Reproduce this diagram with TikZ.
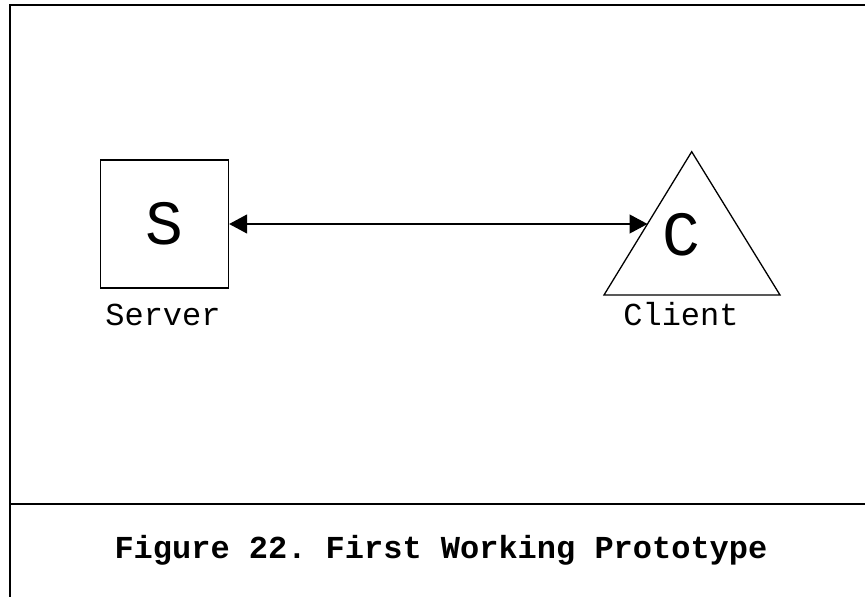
\documentclass[tikz,border=0pt]{standalone}
\usepackage{fontspec}
\newfontfamily\courier{Liberation Mono}
\usetikzlibrary{arrows.meta,positioning}

\newcommand\bigletter[1]{{\fontsize{63}{70}\selectfont #1}}

\begin{document}
\frenchspacing
\begin{tikzpicture}[x=1pt,y=-1pt,font=\courier\fontsize{32}{38}\selectfont,
  frame/.style = {line width=2pt},
  main/.style = {draw,line width=1.3pt,minimum size=128pt,inner sep=0pt},
  link/.style = {line width=1.3pt,{Triangle[length=18pt,width=19pt]}-{Triangle[length=18pt,width=19pt]}}]
\useasboundingbox (0,0) rectangle (865,597);

% frame and caption rule
\draw[frame] (865,5) -- (10,5) -- (10,597);
\draw[frame] (10,504) -- (865,504);

% server
\node (S) [main] at (164.5,224) {\bigletter{S}};
\node (srv) [anchor=base] at (163,325) {Server};

% client
\coordinate (top) at (691.7,151.7);
\coordinate (bl) at (604,295);
\coordinate (br) at (780,295);
\draw[line width=1.3pt] (top) -- (br) -- (bl) -- cycle;
\node (C) at (681.5,234.5) {\bigletter{C}};
\node (cli) [anchor=base] at (681,325) {Client};
\coordinate (hit) at (647.5,224);

\draw[link] (S.east) -- (hit);

% caption
\node (cap) [anchor=base] at (441,558) {\bfseries Figure 22. First Working Prototype};
\end{tikzpicture}
\end{document}
